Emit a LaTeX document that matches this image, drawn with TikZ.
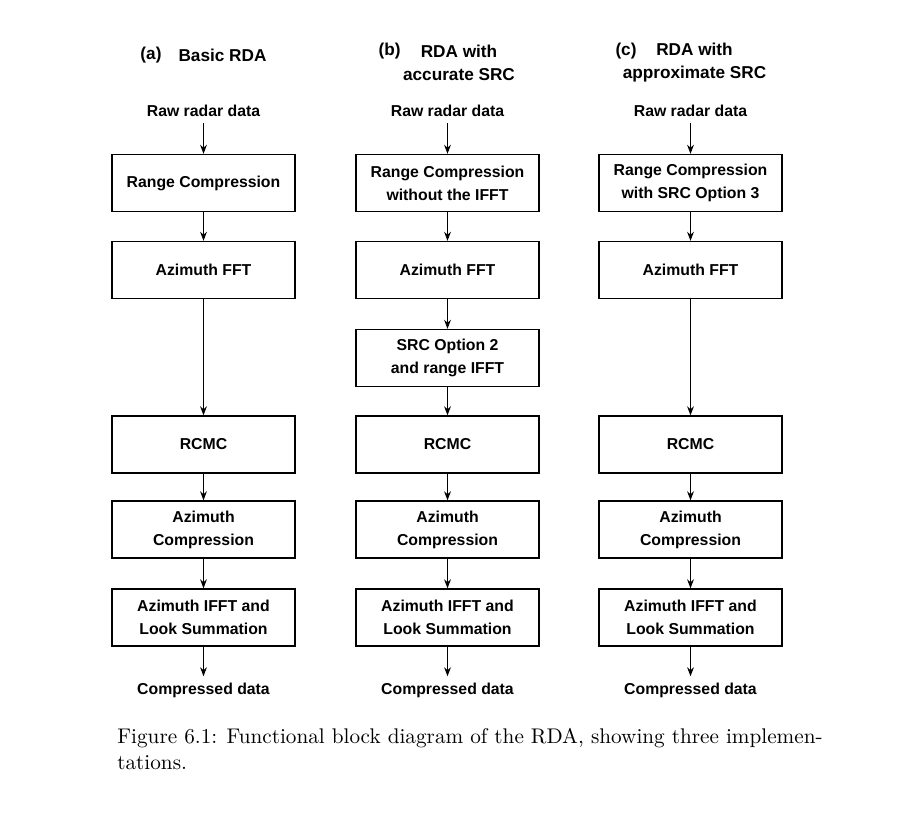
\documentclass[tikz,border=0pt]{standalone}
\usepackage{fontspec}
\setsansfont{Liberation Sans}
\usetikzlibrary{arrows.meta}

\begin{document}
\begin{tikzpicture}[x=0.5pt,y=-0.5pt,
    blk/.style={draw,line width=0.7pt,minimum width=91.5pt,minimum height=28.5pt,
      align=center,inner sep=0pt,font=\sffamily\bfseries\fontsize{7.9}{11.5}\selectfont},
    lbl/.style={align=center,inner sep=3pt,font=\sffamily\bfseries\fontsize{7.9}{11.5}\selectfont},
    ttl/.style={align=center,inner sep=0pt,font=\sffamily\bfseries\fontsize{8.6}{11.5}\selectfont},
    arr/.style={-{Stealth[length=4.5pt,width=3.4pt]},line width=0.55pt}]
  \useasboundingbox (0,0) rectangle (914,818);
  % titles
  \node[ttl] (tla) at (151,55) {(a)};
  \node[ttl] (tta) at (222.5,55) {Basic RDA};
  \node[ttl] (tlb) at (389.5,51) {(b)};
  \node[ttl] (ttb) at (459,62.5) {RDA with\\accurate SRC};
  \node[ttl] (tlc) at (626,51) {(c)};
  \node[ttl] (ttc) at (694.5,62.5) {RDA with\\approximate SRC};
  % the blocks all three columns share
  \foreach \col/\x in {a/203.5,b/447.5,c/690.5} {
    \node[lbl] (\col raw) at (\x,111) {Raw radar data};
    \node[blk] (\col fft) at (\x,270) {Azimuth FFT};
    \node[blk] (\col rcmc) at (\x,444.5) {RCMC};
    \node[blk] (\col azc) at (\x,529.5) {Azimuth\\Compression};
    \node[blk] (\col ifft) at (\x,617.5) {Azimuth IFFT and\\Look Summation};
    \node[lbl] (\col out) at (\x,690) {Compressed data};
  }
  \node[blk] (arc) at (203.5,183) {Range Compression};
  \node[blk] (brc) at (447.5,183) {Range Compression\\without the IFFT};
  \node[blk] (crc) at (690.5,183) {Range Compression\\with SRC Option 3};
  \node[blk] (bsrc) at (447.5,358) {SRC Option 2\\and range IFFT};
  % connectors
  \foreach \col in {a,b,c} {
    \draw[arr] (\col raw.south) -- (\col rc.north);
    \draw[arr] (\col rc.south) -- (\col fft.north);
    \draw[arr] (\col rcmc.south) -- (\col azc.north);
    \draw[arr] (\col azc.south) -- (\col ifft.north);
    \draw[arr] (\col ifft.south) -- (\col out.north);
  }
  \draw[arr] (afft.south) -- (arcmc.north);
  \draw[arr] (bfft.south) -- (bsrc.north);
  \draw[arr] (bsrc.south) -- (brcmc.north);
  \draw[arr] (cfft.south) -- (crcmc.north);
  % caption
  \node[anchor=north west,align=left,inner sep=0pt,font=\fontsize{10.6}{13}\selectfont]
    (cap) at (117,728) {Figure 6.1: Functional block diagram of the RDA, showing three implemen-\\tations.};
\end{tikzpicture}
\end{document}
